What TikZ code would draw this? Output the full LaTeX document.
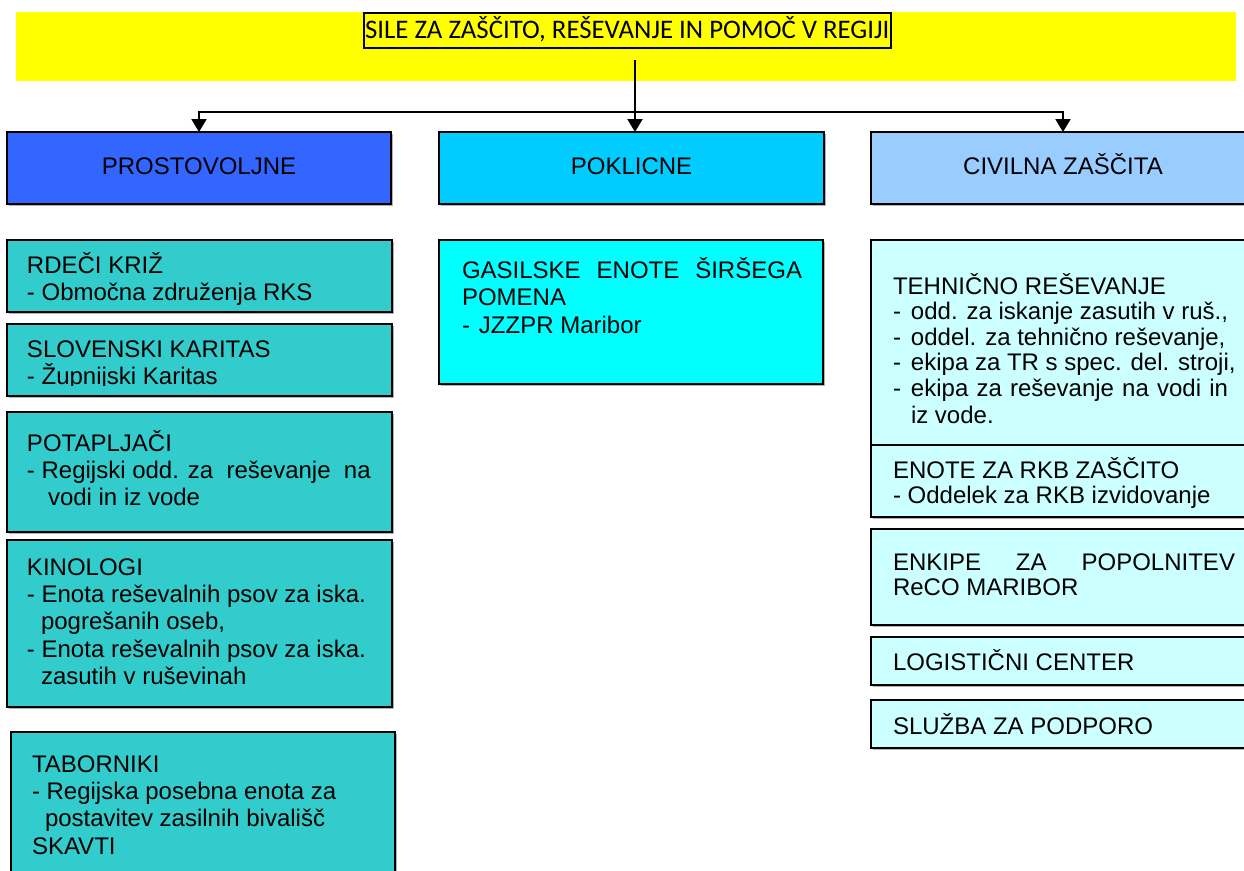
\documentclass[tikz,border=0pt]{standalone}
\usepackage{fontspec}
\setmainfont{Liberation Sans}
\newfontfamily\titlefont{Carlito}
\usetikzlibrary{arrows.meta}
\definecolor{bannerY}{HTML}{FFFF00}
\definecolor{catBlue}{HTML}{3366FF}
\definecolor{catCyan}{HTML}{00CCFF}
\definecolor{catLight}{HTML}{99CCFF}
\definecolor{leftTeal}{HTML}{33CCCC}
\definecolor{midCyan}{HTML}{00FFFF}
\definecolor{rightPale}{HTML}{CCFFFF}
\tikzset{
  box/.style={draw=black, line width=2pt, anchor=north west, inner sep=0pt, outer sep=0pt},
  shadowed/.style={preaction={fill=black!30, transform canvas={xshift=1.5pt,yshift=-1.5pt}}},
  catbox/.style={box, shadowed, minimum height=72pt, font=\fontsize{24}{28}\selectfont, text height=17pt, text depth=4pt},
  lbox/.style={box, shadowed, fill=leftTeal, minimum width=385pt},
  rbox/.style={box, shadowed, line width=1.6pt, fill=rightPale, minimum width=384pt},
  txt/.style={anchor=base west, inner sep=0pt, outer sep=0pt, font=\fontsize{24}{27.4}\selectfont},
  rtxt/.style={txt, font=\fontsize{24}{25.6}\selectfont},
  conn/.style={line width=2pt, -{Triangle[width=15pt 0 0,length=13pt 0 0]}},
}
\begin{document}
\begin{tikzpicture}[x=1pt,y=-1pt]
\clip (0,0) rectangle (1244,870);
\fill[white] (0,0) rectangle (1244,870);

% banner and title
\node[anchor=north west, fill=bannerY, inner sep=0pt, minimum width=1220pt, minimum height=69pt] (banner) at (16,12) {};
\node[anchor=north west, draw=black, line width=1.6pt, inner sep=0pt, minimum width=527pt, minimum height=35pt,
      font=\titlefont\fontsize{26.8}{30}\selectfont, text height=17pt, text depth=0pt] (title) at (363,12)
      {SILE ZA ZAŠČITO, REŠEVANJE IN POMOČ V REGIJI};

% category boxes
\node[catbox, fill=catBlue, minimum width=384pt] (prost) at (7,132) {PROSTOVOLJNE};
\node[catbox, fill=catCyan, minimum width=385pt] (pok) at (439,132) {POKLICNE};
\node[catbox, fill=catLight, minimum width=384pt] (civil) at (871,132) {CIVILNA ZAŠČITA};

% connectors
\coordinate (src) at (635,60);
\coordinate (split) at (635,112);
\draw[conn] (src) -- (src |- pok.north);
\draw[conn] (split) -| (prost.north);
\draw[conn] (split) -| (civil.north);

% left column
\node[lbox, minimum height=72pt] (rk) at (7,240) {};
\node[txt] (rkT) at (27,273) {\parbox[t]{360pt}{\raggedright RDEČI KRIŽ\\- Območna združenja RKS}};

\node[lbox, minimum height=72pt] (sk) at (7,324) {};
\begin{scope}
\clip (7,324) rectangle (392,385);
\node[txt] (skT) at (27,357) {\parbox[t]{360pt}{\raggedright SLOVENSKI KARITAS\\- Župnijski Karitas}};
\end{scope}

\node[lbox, minimum height=120pt] (pot) at (7,412) {};
\node[txt] (potT) at (27,451) {\parbox[t]{360pt}{\raggedright POTAPLJAČI\\- Regijski odd. za\ \ reševanje\ \ na\\\hspace*{21pt}vodi in iz vode}};

\node[lbox, minimum height=167pt] (kin) at (7,540) {};
\node[txt] (kinT) at (27,575) {\parbox[t]{360pt}{\raggedright KINOLOGI\\- Enota reševalnih psov za iska.\\\hspace*{14pt}pogrešanih oseb,\\- Enota reševalnih psov za iska.\\\hspace*{14pt}zasutih v ruševinah}};

\node[lbox, minimum width=384pt, minimum height=160pt] (tab) at (11,732) {};
\node[txt] (tabT) at (32,772) {\parbox[t]{360pt}{\raggedright TABORNIKI\\- Regijska posebna enota za\\\hspace*{13pt}postavitev zasilnih bivališč\\SKAVTI}};

% middle column
\node[box, shadowed, fill=midCyan, minimum width=384pt, minimum height=144pt] (gas) at (439,240) {};
\node[txt, font=\fontsize{24}{27.8}\selectfont] (gasT) at (462,278) {\parbox[t]{350pt}{\raggedright \makebox[340pt][s]{GASILSKE ENOTE ŠIRŠEGA}\\POMENA\\\makebox[17pt][l]{-}JZZPR Maribor}};

% right column
\node[rbox, minimum height=205pt] (teh) at (871,240) {};
\node[rtxt] (tehT) at (893,294) {\parbox[t]{350pt}{\raggedright TEHNIČNO REŠEVANJE\\
\makebox[18pt][l]{-}odd. za iskanje zasutih v ruš.,\\
\makebox[18pt][l]{-}oddel. za tehnično reševanje,\\
\makebox[18pt][l]{-}ekipa za TR s spec. del. stroji,\\
\makebox[18pt][l]{-}\makebox[317pt][s]{ekipa za reševanje na vodi in}\\[1.5pt]
\hspace*{18pt}iz vode.}};

\node[rbox, minimum height=72pt] (rkb) at (871,445) {};
\node[rtxt, font=\fontsize{24}{25}\selectfont] (rkbT) at (893,478) {\parbox[t]{350pt}{\raggedright ENOTE ZA RKB ZAŠČITO\\- Oddelek za RKB izvidovanje}};

\node[rbox, minimum height=96pt] (enk) at (871,529) {};
\node[rtxt, font=\fontsize{24}{25}\selectfont] (enkT) at (893,570) {\parbox[t]{350pt}{\raggedright \makebox[342pt][s]{ENKIPE ZA POPOLNITEV}\\ReCO MARIBOR}};

\node[rbox, minimum height=48pt] (log) at (871,637) {};
\node[rtxt] (logT) at (893,670) {LOGISTIČNI CENTER};

\node[rbox, minimum height=48pt] (slu) at (871,700) {};
\node[rtxt] (sluT) at (893,734) {SLUŽBA ZA PODPORO};
\end{tikzpicture}
\end{document}
